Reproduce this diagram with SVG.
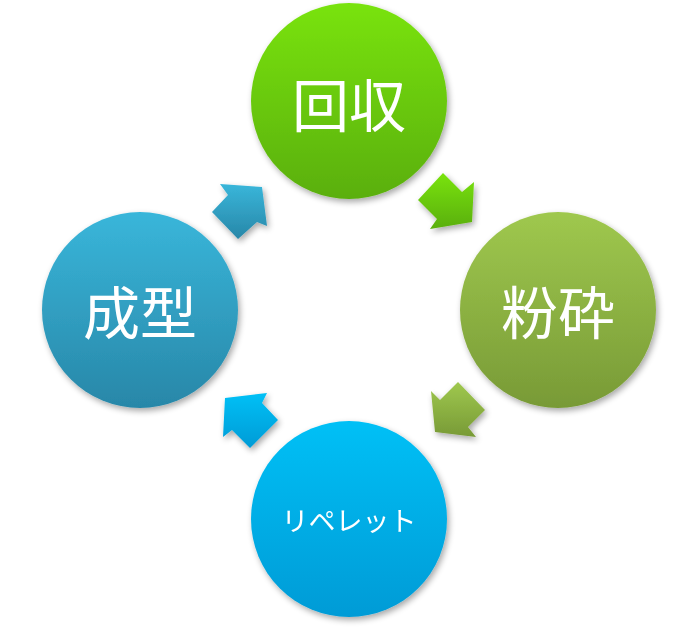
<svg xmlns="http://www.w3.org/2000/svg" width="697" height="628" viewBox="0 0 697 628">
<defs>
<linearGradient id="gGreen" x1="0" y1="0" x2="0" y2="1"><stop offset="0" stop-color="#79e311"/><stop offset="1" stop-color="#5aaf0b"/></linearGradient>
<linearGradient id="gOlive" x1="0" y1="0" x2="0" y2="1"><stop offset="0" stop-color="#9fc84e"/><stop offset="1" stop-color="#789a36"/></linearGradient>
<linearGradient id="gBlue" x1="0" y1="0" x2="0" y2="1"><stop offset="0" stop-color="#00c0f6"/><stop offset="1" stop-color="#009bd6"/></linearGradient>
<linearGradient id="gTeal" x1="0" y1="0" x2="0" y2="1"><stop offset="0" stop-color="#39b6da"/><stop offset="1" stop-color="#2887a8"/></linearGradient>
<filter id="sh" x="-20%" y="-20%" width="140%" height="140%">
<feGaussianBlur in="SourceAlpha" stdDeviation="3"/>
<feOffset dx="2" dy="3" result="b"/>
<feComponentTransfer><feFuncA type="linear" slope="0.35"/></feComponentTransfer>
<feMerge><feMergeNode/><feMergeNode in="SourceGraphic"/></feMerge>
</filter>
</defs>
<style>
.lbl{fill:#ffffff;font-family:"Noto Sans CJK JP","Noto Sans CJK SC",sans-serif;text-anchor:middle}
.big{font-size:57px}
.small{font-size:27px}
</style>
<rect width="697" height="628" fill="#ffffff"/>
<g id="connectors" filter="url(#sh)">
<polygon points="262,187 267,226 257,222 238,239 212,212 228,195 220,184" fill="url(#gTeal)"/>
<polygon points="443,173 462,192 474,182 472,222 430,229 437,219 418,200" fill="url(#gGreen)"/>
<polygon points="458,382 485,410 468,427 476,437 435,432 431,391 440,400" fill="url(#gOlive)"/>
<polygon points="225,398 267,393 262,403 278,420 250,448 232,430 223,437" fill="url(#gBlue)"/>
</g>
<g id="node-kaishu" filter="url(#sh)">
<circle cx="349" cy="101" r="98" fill="url(#gGreen)"/>
<text class="lbl big" x="349" y="127">回収</text>
</g>
<g id="node-funsai" filter="url(#sh)">
<circle cx="558" cy="310" r="98" fill="url(#gOlive)"/>
<text class="lbl big" x="558" y="334">粉砕</text>
</g>
<g id="node-repellet" filter="url(#sh)">
<circle cx="349" cy="519" r="98" fill="url(#gBlue)"/>
<text class="lbl small" x="349" y="531">リペレット</text>
</g>
<g id="node-seikei" filter="url(#sh)">
<circle cx="140" cy="310" r="98" fill="url(#gTeal)"/>
<text class="lbl big" x="140" y="334">成型</text>
</g>
</svg>
